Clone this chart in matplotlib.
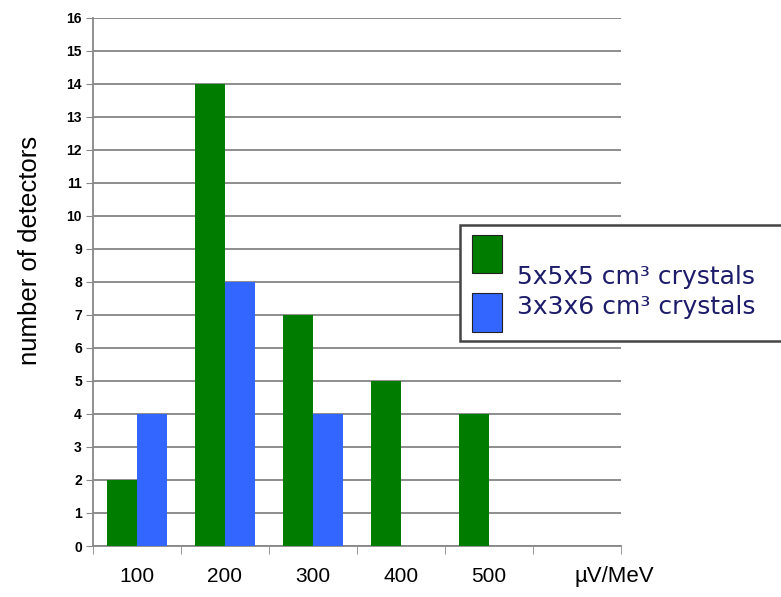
import matplotlib.pyplot as plt
from matplotlib.patches import Rectangle
import numpy as np

categories = ['100', '200', '300', '400', '500', '']
crystals_555 = [2, 14, 7, 5, 4, 0]
crystals_336 = [4, 8, 4, 0, 0, 0]
unit_label = 'µV/MeV'
legend_labels = ['5x5x5 cm³ crystals', '3x3x6 cm³ crystals']

green = '#007c00'
blue = '#3366ff'
navy = '#1c1c6a'


def main():
    plt.rcParams['font.family'] = ['Liberation Sans', 'DejaVu Sans']
    fig = plt.figure(figsize=(7.81, 5.97), dpi=100)
    ax = fig.add_axes([0.119, 0.0854, 0.676, 0.885])

    x = np.arange(len(categories))
    w = 0.34
    ax.bar(x - w / 2, crystals_555, w, color=green, zorder=3)
    ax.bar(x + w / 2, [v if v > 0 else np.nan for v in crystals_336], w,
           color=blue, zorder=3)

    ax.set_xlim(-0.5, len(categories) - 0.5)
    ax.set_ylim(0, 16)
    ax.set_yticks(range(0, 17))
    ax.tick_params(axis='y', labelsize=10, length=5, color='#888888', pad=3)
    for lab in ax.get_yticklabels():
        lab.set_fontweight('bold')
    ax.yaxis.grid(True, color='#858585', linewidth=1.3, zorder=0)

    # category labels sit between the boundary ticks
    ax.set_xticks(x)
    ax.set_xticklabels(categories, fontsize=15)
    ax.tick_params(axis='x', length=0, pad=15)
    ax.set_xticks(np.arange(-0.5, len(categories)), minor=True)
    ax.tick_params(axis='x', which='minor', length=6, color='#888888')
    ax.text(5.43, -0.038, unit_label, transform=ax.get_xaxis_transform(),
            fontsize=16, ha='center', va='top')

    for side in ['top', 'right']:
        ax.spines[side].set_visible(False)
    ax.spines['left'].set_color('#888888')
    ax.spines['bottom'].set_color('#888888')
    ax.spines['left'].set_linewidth(1.3)
    ax.spines['bottom'].set_linewidth(1.3)

    fig.text(30 / 781, 1 - 250 / 597, 'number of detectors', fontsize=18.5,
             rotation=90, ha='center', va='center')

    # hand-made legend box, running off the right edge like the original
    fig.patches.append(Rectangle((460 / 781, 1 - 341 / 597), 330 / 781, 116 / 597,
                                 transform=fig.transFigure, facecolor='white',
                                 edgecolor='#444444', linewidth=1.8, zorder=5))
    fig.patches.append(Rectangle((472 / 781, 1 - 273 / 597), 30 / 781, 38 / 597,
                                 transform=fig.transFigure, facecolor=green,
                                 edgecolor='#222222', linewidth=0.8, zorder=6))
    fig.patches.append(Rectangle((472 / 781, 1 - 332 / 597), 30 / 781, 39 / 597,
                                 transform=fig.transFigure, facecolor=blue,
                                 edgecolor='#222222', linewidth=0.8, zorder=6))
    for i, lab in enumerate(legend_labels):
        fig.text(517 / 781, 1 - (277 + 30 * i) / 597, lab, fontsize=18,
                 family=['DejaVu Sans'], color=navy, va='center', zorder=7)

    fig.savefig('out.png', dpi=100)


if __name__ == '__main__':
    main()
